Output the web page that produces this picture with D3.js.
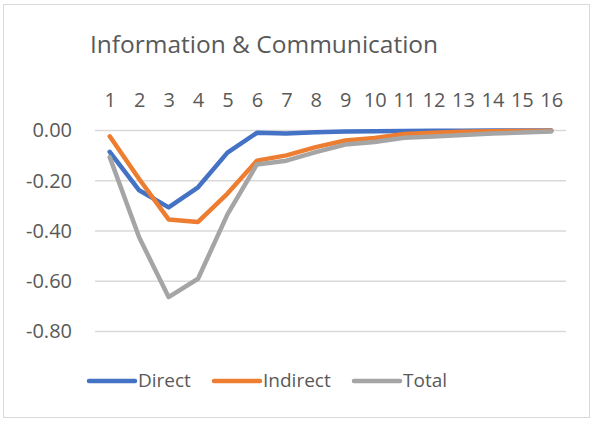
<!DOCTYPE html>
<html>
<head>
<meta charset="utf-8">
<script src="https://cdn.jsdelivr.net/npm/d3@7/dist/d3.min.js"></script>
<style>
  html, body { margin: 0; padding: 0; background: #fff; }
  svg { display: block; }
  text { font-family: "Open Sans", sans-serif; fill: #595959; }
</style>
</head>
<body>
<svg id="chart" width="593" height="421"></svg>
<script>
const categories = ["1","2","3","4","5","6","7","8","9","10","11","12","13","14","15","16"];
const direct   = [-0.087,-0.240,-0.308,-0.228,-0.090,-0.011,-0.014,-0.009,-0.006,-0.005,-0.004,-0.003,-0.003,-0.002,-0.002,-0.002];
const indirect = [-0.025,-0.195,-0.356,-0.366,-0.253,-0.122,-0.101,-0.068,-0.042,-0.032,-0.016,-0.011,-0.007,-0.005,-0.004,-0.003];
const total    = [-0.108,-0.427,-0.665,-0.592,-0.336,-0.137,-0.122,-0.088,-0.058,-0.048,-0.031,-0.026,-0.020,-0.014,-0.010,-0.006];
const yTicks   = [0, -0.2, -0.4, -0.6, -0.8];
const seriesNames = ["Direct","Indirect","Total"];
const seriesColors = ["#4472C4","#ED7D31","#A5A5A5"];
const seriesData = [direct, indirect, total];

const svg = d3.select("#chart");

// chart border
svg.append("rect").attr("x",3.5).attr("y",4.5).attr("width",586).attr("height",413)
  .attr("fill","#fff").attr("stroke","#D9D9D9").attr("stroke-width",1);

// title
svg.append("text").attr("x",264).attr("y",53).attr("text-anchor","middle")
  .style("font-size","24.5px").text("Information & Communication");

const x = d3.scalePoint().domain(categories).range([95,566]).padding(0.5);
const y = d3.scaleLinear().domain([-0.8,0]).range([331,130]);

// gridlines
const yAxis = d3.axisLeft(y).tickValues(yTicks).tickSize(-(566-95)).tickFormat(d3.format(".2f"));
const gy = svg.append("g").attr("transform","translate(95,0)").call(yAxis);
gy.select(".domain").remove();
gy.selectAll(".tick line").attr("stroke","#D9D9D9").attr("stroke-width",1.3);
gy.selectAll(".tick text").attr("x",-23).attr("dy","0.34em")
  .style("font-size","20px").style("font-family","'Open Sans', sans-serif").attr("fill","#595959")
  .text(d => d3.format(".2f")(d).replace("−","-"));

// x labels on top
const xAxis = d3.axisTop(x).tickSize(0);
const gx = svg.append("g").attr("transform","translate(0,100)").call(xAxis);
gx.select(".domain").remove();
gx.selectAll(".tick text").attr("y",0).attr("dy","0.34em")
  .style("font-size","20px").style("font-family","'Open Sans', sans-serif").attr("fill","#595959");

// lines
const line = d3.line().x((d,i)=>x(categories[i])).y(d=>y(d));
seriesData.forEach((s,k)=>{
  svg.append("path").datum(s).attr("d",line).attr("fill","none")
    .attr("stroke",seriesColors[k]).attr("stroke-width",4.5)
    .attr("stroke-linejoin","round").attr("stroke-linecap","round");
});

// legend
const legendX = [89, 214, 354];
const legend = svg.append("g");
seriesNames.forEach((n,k)=>{
  const g = legend.append("g").attr("transform",`translate(${legendX[k]},381)`);
  g.append("line").attr("x1",0).attr("x2",46).attr("y1",0).attr("y2",0)
    .attr("stroke",seriesColors[k]).attr("stroke-width",4.5).attr("stroke-linecap","round");
  g.append("text").attr("x",49).attr("dy","0.34em").style("font-size","19px").text(n);
});
</script>
</body>
</html>
